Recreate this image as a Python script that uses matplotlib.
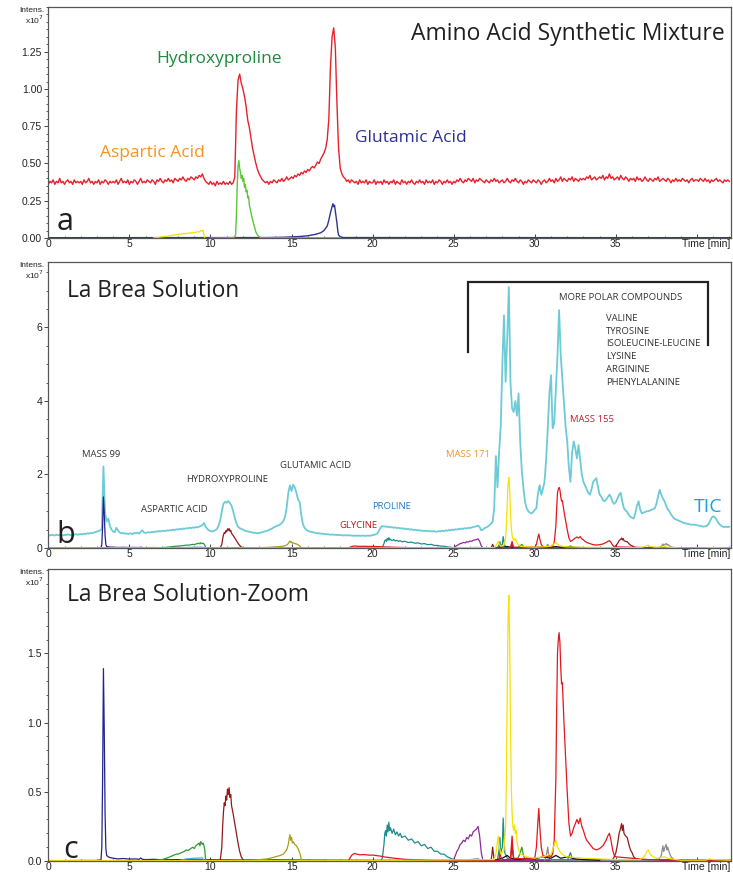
import numpy as np
import matplotlib
matplotlib.use("Agg")
import matplotlib.pyplot as plt
from matplotlib.ticker import MultipleLocator, FixedLocator, FuncFormatter

STEP = 0.1  # min between samples of the densely recorded traces

# ---------------- a: amino acid synthetic mixture ----------------
# total ion current, 1e5 counts, one value every STEP min from 0 min
mix_tic = [
    36, 38, 37, 39, 36, 38, 37, 40, 37, 38,
    36, 38, 39, 37, 38, 36, 39, 37, 38, 37,
    38, 36, 39, 37, 38, 40, 37, 38, 36, 38,
    37, 39, 36, 38, 37, 39, 38, 36, 38, 37,
    38, 37, 39, 36, 38, 40, 37, 38, 37, 39,
    36, 38, 37, 39, 38, 36, 38, 40, 37, 38,
    37, 39, 38, 37, 39, 38, 36, 39, 38, 40,
    38, 37, 39, 38, 40, 38, 39, 37, 40, 39,
    38, 40, 39, 41, 39, 38, 40, 39, 41, 40,
    39, 41, 40, 42, 41, 43, 40, 38, 37, 36,
    38, 36, 37, 35, 38, 36, 37, 36, 38, 36,
    37, 36, 38, 36, 37, 41, 85, 106, 110, 104,
    100, 95, 88, 79, 74, 67, 60, 55, 50, 46,
    43, 41, 39, 38, 37, 38, 36, 38, 37, 39,
    38, 37, 39, 38, 40, 38, 39, 41, 39, 40,
    41, 40, 42, 41, 43, 42, 44, 43, 45, 44,
    46, 45, 47, 48, 47, 49, 51, 50, 53, 55,
    57, 60, 66, 80, 115, 135, 141, 128, 90, 60,
    47, 43, 41, 40, 38, 39, 37, 39, 38, 37,
    38, 36, 39, 37, 38, 37, 39, 36, 38, 37,
    37, 39, 36, 38, 37, 38, 36, 39, 37, 38,
    36, 38, 37, 39, 36, 38, 37, 36, 39, 37,
    38, 36, 38, 37, 39, 37, 36, 38, 37, 39,
    37, 38, 36, 39, 37, 38, 37, 39, 36, 38,
    37, 39, 38, 36, 38, 37, 39, 37, 38, 36,
    38, 37, 39, 38, 40, 38, 37, 39, 38, 40,
    39, 38, 40, 37, 39, 38, 40, 39, 38, 37,
    39, 38, 37, 39, 38, 40, 38, 39, 37, 38,
    39, 37, 38, 40, 38, 37, 39, 38, 40, 38,
    37, 39, 38, 36, 38, 37, 39, 38, 37, 39,
    38, 37, 39, 38, 36, 38, 39, 37, 38, 40,
    38, 39, 37, 40, 38, 39, 41, 38, 40, 39,
    38, 40, 39, 41, 38, 40, 39, 38, 40, 39,
    40, 39, 41, 40, 42, 39, 40, 41, 39, 40,
    41, 40, 42, 39, 41, 40, 43, 40, 41, 39,
    40, 41, 39, 42, 40, 39, 41, 40, 38, 40,
    39, 40, 38, 41, 39, 40, 38, 39, 41, 39,
    38, 40, 39, 38, 40, 39, 41, 38, 39, 40,
    39, 38, 40, 39, 37, 39, 38, 40, 38, 39,
    38, 40, 39, 38, 39, 37, 39, 40, 38, 39,
    39, 38, 40, 39, 38, 40, 38, 39, 37, 39,
    38, 39, 40, 38, 39, 38, 37, 39, 38, 39,
    38,
]

# extracted ion traces of the mixture, (time [min], 1e5 counts)
mix_hyp = [(10.0, 0), (11.45, 0.2), (11.55, 2), (11.6, 15), (11.65, 35), (11.7, 48),
           (11.75, 52), (11.8, 47), (11.85, 44), (11.9, 40), (11.95, 42), (12.0, 38),
           (12.05, 40), (12.1, 34), (12.15, 36), (12.2, 31), (12.25, 32), (12.3, 27),
           (12.35, 28), (12.4, 22), (12.5, 17), (12.6, 12), (12.7, 8), (12.8, 4),
           (12.9, 2), (13.0, 0.8), (13.1, 0.2), (18.0, 0.1)]
mix_asp = [(6.5, 0), (7.0, 0.8), (7.5, 1.5), (8.0, 2.5), (8.5, 3), (8.8, 3.5), (9.0, 3.6),
           (9.2, 4.2), (9.3, 4), (9.4, 5), (9.5, 4.6), (9.55, 5.2), (9.6, 2), (9.65, 0)]
mix_glu = [(0, 0.2), (13.5, 0.3), (14.5, 0.5), (15.5, 1), (16.0, 1.5), (16.5, 2.5),
           (16.8, 3.5), (17.0, 5), (17.2, 8), (17.3, 12), (17.4, 17), (17.5, 21),
           (17.55, 23), (17.6, 21), (17.65, 22), (17.7, 18), (17.8, 10), (17.85, 5),
           (17.9, 2), (18.0, 0.8), (18.2, 0.3), (42.1, 0.2)]

# ---------------- b / c: La Brea solution ----------------
# TIC, 1e5 counts, one value every STEP min from 0 min
brea_tic = [
    35, 34, 36, 35, 34, 36, 35, 35, 36, 34,
    36, 35, 37, 36, 35, 37, 36, 38, 36, 37,
    38, 37, 39, 38, 40, 39, 41, 40, 42, 43,
    45, 46, 48, 52, 222, 95, 72, 80, 60, 50,
    45, 43, 55, 48, 42, 40, 41, 39, 40, 38,
    39, 40, 38, 41, 40, 42, 39, 44, 48, 42,
    41, 42, 43, 42, 44, 43, 45, 44, 46, 45,
    46, 47, 46, 48, 47, 49, 48, 50, 49, 51,
    50, 52, 51, 53, 52, 54, 53, 55, 54, 56,
    55, 57, 56, 58, 60, 62, 68, 58, 52, 48,
    46, 45, 47, 48, 52, 60, 75, 100, 120, 126,
    123, 128, 122, 115, 100, 82, 68, 58, 54, 52,
    50, 48, 46, 45, 44, 43, 42, 41, 41, 40,
    41, 42, 43, 44, 46, 47, 49, 51, 53, 56,
    58, 60, 62, 64, 68, 74, 85, 110, 150, 170,
    155, 172, 165, 150, 132, 125, 90, 65, 55, 50,
    47, 45, 44, 43, 42, 41, 40, 40, 39, 39,
    38, 38, 37, 37, 36, 37, 36, 36, 35, 36,
    35, 35, 34, 35, 34, 35, 34, 34, 33, 34,
    33, 34, 33, 33, 34, 33, 33, 34, 33, 34,
    35, 36, 37, 40, 48, 56, 60, 58, 59, 57,
    58, 56, 57, 55, 56, 54, 55, 53, 54, 52,
    53, 51, 52, 50, 51, 49, 50, 48, 49, 47,
    48, 46, 47, 46, 47, 45, 46, 45, 46, 44,
    45, 46, 45, 47, 46, 48, 47, 49, 48, 50,
    49, 51, 50, 52, 51, 53, 52, 54, 53, 55,
    54, 56, 57, 58, 59, 61, 57, 48, 50, 54,
    56, 58, 62, 66, 72, 110, 250, 165, 260, 330,
    500, 633, 452, 570, 710, 450, 380, 370, 400, 360,
    420, 290, 210, 163, 125, 108, 100, 96, 94, 98,
    104, 108, 150, 171, 145, 160, 180, 240, 326, 420,
    470, 326, 340, 430, 524, 647, 524, 460, 400, 330,
    290, 220, 180, 260, 290, 270, 244, 280, 240, 200,
    180, 170, 160, 150, 145, 160, 180, 185, 190, 165,
    145, 140, 130, 127, 132, 138, 145, 138, 125, 120,
    125, 135, 145, 150, 125, 108, 102, 98, 90, 85,
    82, 80, 95, 115, 127, 105, 94, 96, 98, 100,
    100, 102, 104, 106, 108, 120, 140, 158, 145, 135,
    127, 115, 105, 100, 92, 85, 80, 78, 76, 74,
    72, 70, 68, 67, 66, 65, 64, 63, 64, 63,
    62, 61, 60, 59, 58, 59, 60, 64, 72, 82,
    86, 84, 78, 70, 64, 60, 58, 57, 58, 57,
    58,
]

# extracted ion chromatograms, (time [min], 1e5 counts)
eic_99 = [(0, 0.3), (1, 0.3), (2, 0.4), (3, 0.4), (3.25, 0.8), (3.3, 10), (3.35, 60),
          (3.4, 139), (3.45, 95), (3.5, 35), (3.55, 9), (3.6, 4), (3.7, 3), (3.8, 2.5),
          (4.0, 2), (4.3, 1.5), (4.6, 1.8), (5.0, 1.4), (5.4, 1.5), (5.6, 1.2), (5.7, 2.2),
          (5.8, 1.2), (6.0, 1.0), (6.5, 1.2), (7.0, 0.9), (8.0, 1.0), (9.0, 0.8),
          (10.0, 0.9), (12.0, 0.7), (14.0, 0.8), (16.0, 0.6), (18.0, 0.5), (20.0, 0.4),
          (25.0, 0.3), (42.1, 0.3)]
eic_asp = [(0, 0), (6.5, 0.3), (7.0, 1), (7.3, 2), (7.5, 3), (7.7, 4), (7.9, 5), (8.0, 5),
           (8.2, 6), (8.4, 7), (8.5, 8), (8.6, 7.5), (8.8, 9), (8.9, 10), (9.0, 9),
           (9.1, 11), (9.2, 12), (9.3, 13), (9.35, 11), (9.4, 14), (9.5, 12), (9.55, 13),
           (9.6, 11), (9.65, 8), (9.7, 1), (9.8, 0.3), (20, 0.3), (28.9, 0.5), (29.0, 3),
           (29.1, 6), (29.2, 10), (29.25, 7), (29.3, 4), (29.4, 1), (29.5, 0.3), (42.1, 0.3)]
eic_hyp = [(0, 0.2), (10.6, 0.3), (10.7, 10), (10.75, 25), (10.8, 35), (10.85, 42),
           (10.9, 40), (10.95, 47), (11.0, 44), (11.05, 52), (11.1, 48), (11.15, 53),
           (11.2, 46), (11.25, 48), (11.3, 40), (11.4, 34), (11.5, 27), (11.6, 20),
           (11.7, 13), (11.8, 7), (11.9, 3), (12.0, 1), (12.1, 0.4), (27.3, 0.3),
           (27.35, 4), (27.4, 10), (27.45, 5), (27.5, 0.5), (28.5, 0.5), (28.55, 6),
           (28.6, 12), (28.65, 5), (28.7, 0.5), (34.8, 1), (34.9, 3), (35.0, 6),
           (35.1, 12), (35.2, 20), (35.3, 24), (35.35, 27), (35.4, 22), (35.45, 26),
           (35.5, 20), (35.6, 18), (35.7, 17), (35.8, 12), (35.9, 8), (36.0, 6),
           (36.1, 3), (36.3, 1), (42.1, 0.3)]
eic_glu = [(0, 0.2), (12.5, 0.3), (13.0, 1), (13.5, 1.5), (14.0, 3), (14.3, 4), (14.5, 5),
           (14.7, 8), (14.8, 12), (14.85, 16), (14.9, 19), (14.95, 15), (15.0, 17),
           (15.05, 13), (15.1, 14), (15.2, 12), (15.3, 11), (15.4, 9), (15.5, 6),
           (15.55, 4), (15.6, 1), (15.7, 0.3), (42.1, 0.3)]
eic_155 = [(0, 0.2), (18.5, 0.3), (18.6, 2), (18.7, 4), (18.8, 5), (18.9, 5.5), (19.0, 5),
           (19.2, 4.5), (19.5, 4.6), (19.8, 4.2), (20.0, 4.3), (20.3, 3.8), (20.5, 3.5),
           (20.8, 2.8), (21.0, 2.5), (21.5, 1.8), (22.0, 1.2), (22.5, 1), (23.0, 0.8),
           (23.5, 0.6), (24.0, 0.4), (27.8, 0.5), (27.85, 8), (27.9, 3), (28.0, 1),
           (28.5, 1), (28.55, 10), (28.6, 18), (28.65, 8), (28.7, 2), (29.5, 1.5),
           (30.0, 2), (30.1, 10), (30.2, 30), (30.25, 38), (30.3, 26), (30.4, 10),
           (30.5, 4), (30.7, 3), (30.9, 4), (31.0, 3), (31.1, 5), (31.2, 15), (31.3, 60),
           (31.35, 110), (31.4, 150), (31.45, 160), (31.5, 165), (31.55, 158),
           (31.6, 140), (31.65, 128), (31.7, 129), (31.8, 100), (31.9, 75), (32.0, 50),
           (32.1, 28), (32.2, 18), (32.3, 20), (32.4, 24), (32.5, 27), (32.6, 30),
           (32.7, 27), (32.8, 31), (32.9, 25), (33.0, 22), (33.1, 18), (33.2, 15),
           (33.4, 12), (33.6, 9), (33.8, 8), (34.0, 9), (34.2, 11), (34.4, 15),
           (34.5, 18), (34.6, 20), (34.7, 15), (34.8, 8), (34.9, 4), (35.0, 3),
           (35.5, 2.5), (36.0, 2), (36.5, 1.5), (37.0, 1), (38.0, 0.8), (40.0, 0.5),
           (42.1, 0.5)]
eic_171 = [(0, 0.3), (20, 0.3), (27.5, 1), (27.6, 5), (27.7, 14), (27.75, 18), (27.8, 12),
           (27.9, 5), (28.0, 6), (28.1, 8), (28.2, 25), (28.25, 60), (28.3, 120),
           (28.35, 175), (28.4, 192), (28.45, 160), (28.5, 100), (28.55, 55), (28.6, 35),
           (28.65, 25), (28.7, 22), (28.75, 26), (28.8, 20), (28.85, 22), (28.9, 14),
           (29.0, 8), (29.1, 5), (29.5, 3), (30.0, 2), (30.5, 3), (31.0, 5), (31.1, 8),
           (31.2, 12), (31.3, 15), (31.4, 10), (31.5, 8), (31.6, 6), (31.8, 4), (32.0, 3),
           (33.0, 2), (34.0, 1.5), (35.0, 1), (36.5, 1), (36.8, 4), (36.9, 7), (37.0, 8),
           (37.1, 5), (37.3, 3), (37.5, 2), (38.0, 3), (38.2, 2), (39.0, 0.5),
           (40.5, 0.5), (40.8, 1.5), (41.0, 1), (42.1, 0.5)]
eic_pro = [(0, 0.2), (20.5, 0.3), (20.6, 2), (20.7, 12), (20.75, 20), (20.8, 22),
           (20.85, 18), (20.9, 26), (20.95, 21), (21.0, 28), (21.05, 22), (21.1, 24),
           (21.2, 20), (21.3, 23), (21.4, 19), (21.5, 21), (21.6, 18), (21.7, 20),
           (21.8, 17), (22.0, 18), (22.2, 15), (22.4, 16), (22.6, 13), (22.8, 14),
           (23.0, 11), (23.2, 12), (23.4, 9), (23.6, 10), (23.8, 7), (24.0, 7),
           (24.2, 5), (24.4, 5), (24.6, 3), (24.8, 2), (25.0, 1), (25.5, 0.5),
           (26.5, 1.5), (26.7, 0.5), (27.7, 1), (27.8, 8), (27.85, 17), (27.9, 6),
           (28.0, 10), (28.05, 31), (28.1, 18), (28.15, 6), (28.3, 2), (28.5, 1),
           (32.0, 0.5), (32.1, 3), (32.2, 6), (32.3, 2), (32.5, 0.5), (42.1, 0.3)]
eic_purple = [(0, 0.1), (24.9, 0.2), (25.0, 1), (25.1, 4), (25.2, 7), (25.3, 9), (25.4, 12),
              (25.5, 13), (25.6, 15), (25.7, 14), (25.8, 17), (25.9, 16), (26.0, 19),
              (26.1, 18), (26.2, 21), (26.3, 22), (26.4, 23), (26.5, 25), (26.6, 18),
              (26.7, 6), (26.8, 0.5), (42.1, 0.1)]
eic_gray = [(30.6, 0.3), (30.7, 3), (30.8, 10), (30.85, 5), (30.9, 2), (31.0, 0.5),
            (37.6, 0.3), (37.8, 4), (37.9, 11), (37.95, 7), (38.0, 9), (38.1, 12),
            (38.15, 8), (38.2, 10), (38.3, 6), (38.4, 3), (38.6, 1), (38.8, 0.3)]
eic_black = [(26.5, 0.2), (27.5, 0.5), (28.0, 2), (28.3, 4), (28.5, 2), (29.0, 1),
             (29.5, 2), (30.0, 1.5), (30.5, 3), (31.0, 2), (31.3, 4), (31.6, 2), (32.0, 3),
             (32.5, 1.5), (33.0, 1), (34.0, 0.5)]
eic_sky = [(8.0, 0.2), (8.5, 1.5), (9.0, 2), (9.5, 2.2), (9.6, 0.3)]

eic_traces = [
    (eic_99, '#23238e'), (eic_asp, '#2f9a35'), (eic_hyp, '#931a1a'),
    (eic_glu, '#a3a020'), (eic_pro, '#1d8c8c'), (eic_purple, '#8a2d9b'),
    (eic_gray, '#8c8c8c'), (eic_black, '#111111'), (eic_sky, '#48a8e0'),
    (eic_155, '#e5161d'), (eic_171, '#f2e400'),
]

sans = ['Open Sans', 'DejaVu Sans']
tick_font = ['Liberation Sans', 'DejaVu Sans']


def dense(values):
    y = np.array(values, dtype=float) / 100.0
    return np.arange(len(y)) * STEP, y


def pairs(points):
    t, y = zip(*points)
    return np.array(t), np.array(y) / 100.0


def setup(ax, ymax, yticks, minor, fmt):
    ax.set_xlim(0, 42.1)
    ax.set_ylim(0, ymax)
    ax.xaxis.set_major_locator(MultipleLocator(5))
    ax.xaxis.set_minor_locator(MultipleLocator(1))
    ax.yaxis.set_major_locator(FixedLocator(yticks))
    ax.yaxis.set_minor_locator(MultipleLocator(minor))
    ax.yaxis.set_major_formatter(FuncFormatter(lambda v, p: fmt.format(v)))
    ax.xaxis.set_major_formatter(FuncFormatter(lambda v, p: '' if v > 37 else f'{v:.0f}'))
    ax.tick_params(axis='y', which='major', direction='out', length=3, width=0.7,
                   colors='#444', labelsize=7.5, pad=1.5, labelcolor='#222')
    ax.tick_params(axis='y', which='minor', direction='out', length=1.8, width=0.6,
                   colors='#444')
    ax.tick_params(axis='x', which='major', direction='in', length=3, width=0.7,
                   colors='#444', labelsize=7.5, pad=1.0, labelcolor='#222')
    ax.tick_params(axis='x', which='minor', direction='in', length=1.8, width=0.6,
                   colors='#444')
    for lab in ax.get_xticklabels() + ax.get_yticklabels():
        lab.set_family(tick_font)
    for s in ax.spines.values():
        s.set_color('#555555')
        s.set_linewidth(0.9)
    ax.text(0.999, -0.004, 'Time [min]', transform=ax.transAxes, ha='right', va='top',
            fontsize=7.5, color='#222', family=tick_font)


W, H = 733, 875
fig = plt.figure(figsize=(W / 100, H / 100), dpi=100)


def add_axes(top, bottom):
    return fig.add_axes([48.3 / W, 1 - bottom / H, (731 - 48.3) / W, (bottom - top) / H])


def intens_label(top):
    fig.text(44 / W, 1 - (top + 3) / H, 'Intens.', ha='right', va='center', fontsize=6,
             color='#222', family=tick_font)
    fig.text(44 / W, 1 - (top + 13) / H, r'x10$^7$', ha='right', va='center', fontsize=6,
             color='#222', family=tick_font)


# ---- panel a ----
ax_a = add_axes(7, 238)
t, y = dense(mix_tic)
ax_a.plot(t, y, color='#e8202a', lw=1.0)
for pts, col in [(mix_glu, '#2c3590'), (mix_asp, '#eee51c'), (mix_hyp, '#5ec43a')]:
    tt, yy = pairs(pts)
    ax_a.plot(tt, yy, color=col, lw=1.0)
setup(ax_a, 1.55, [0, 0.25, 0.5, 0.75, 1.0, 1.25], 0.05, '{:.2f}')
intens_label(7)
ax_a.text(41.7, 1.37, 'Amino Acid Synthetic Mixture', ha='right', va='center',
          fontsize=16.5, color='#231f20', family=sans)
ax_a.text(6.65, 1.2, 'Hydroxyproline', ha='left', va='center', fontsize=12.5,
          color='#1a8a3c', family=sans)
ax_a.text(3.2, 0.57, 'Aspartic Acid', ha='left', va='center', fontsize=12.5,
          color='#f7941d', family=sans)
ax_a.text(18.9, 0.67, 'Glutamic Acid', ha='left', va='center', fontsize=12.5,
          color='#2e3192', family=sans)
ax_a.text(0.5, 0.11, 'a', ha='left', va='center', fontsize=22, color='#231f20', family=sans)

# ---- panel b ----
ax_b = add_axes(262, 548)
t, y = dense(brea_tic)
ax_b.plot(t, y, color='#6ccbd6', lw=1.3)
for pts, col in eic_traces:
    tt, yy = pairs(pts)
    ax_b.plot(tt, yy, color=col, lw=0.9)
setup(ax_b, 7.78, [0, 2, 4, 6], 0.5, '{:.0f}')
intens_label(262)
ax_b.text(1.15, 6.98, 'La Brea Solution', ha='left', va='center', fontsize=16.3,
          color='#231f20', family=sans)
small = dict(ha='center', va='center', fontsize=6.8, family=sans)
ax_b.text(3.27, 2.55, 'MASS 99', color='#333', **small)
ax_b.text(7.8, 1.06, 'ASPARTIC ACID', color='#333', **small)
ax_b.text(11.03, 1.87, 'HYDROXYPROLINE', color='#333', **small)
ax_b.text(16.5, 2.25, 'GLUTAMIC ACID', color='#333', **small)
ax_b.text(19.15, 0.62, 'GLYCINE', color='#c4161c', **small)
ax_b.text(21.15, 1.14, 'PROLINE', color='#1f7cc8', **small)
ax_b.text(25.9, 2.55, 'MASS 171', color='#f7941d', **small)
ax_b.text(33.53, 3.5, 'MASS 155', color='#be1e2d', **small)
ax_b.text(35.3, 6.82, 'MORE POLAR COMPOUNDS', color='#333', **small)
polar = ['VALINE', 'TYROSINE', 'ISOLEUCINE-LEUCINE', 'LYSINE', 'ARGININE', 'PHENYLALANINE']
for i, name in enumerate(polar):
    ax_b.text(34.4, 6.25 - i * 0.348, name, ha='left', va='center', fontsize=6.8,
              color='#333', family=sans)
ax_b.plot([25.86, 25.86, 40.68, 40.68], [5.33, 7.23, 7.23, 5.52], color='#222', lw=1.6,
          solid_joinstyle='miter')
ax_b.text(40.7, 1.11, 'TIC', ha='center', va='center', fontsize=14, color='#1ea0dc',
          family=sans)
ax_b.text(0.5, 0.35, 'b', ha='left', va='center', fontsize=22, color='#231f20', family=sans)

# ---- panel c ----
ax_c = add_axes(569, 861)
for pts, col in eic_traces:
    tt, yy = pairs(pts)
    ax_c.plot(tt, yy, color=col, lw=0.9)
setup(ax_c, 2.11, [0, 0.5, 1.0, 1.5], 0.1, '{:.1f}')
intens_label(569)
ax_c.text(1.15, 1.92, 'La Brea Solution-Zoom', ha='left', va='center', fontsize=16.4,
          color='#231f20', family=sans)
ax_c.text(0.9, 0.08, 'c', ha='left', va='center', fontsize=22, color='#231f20', family=sans)

fig.savefig('out.png', dpi=100)
